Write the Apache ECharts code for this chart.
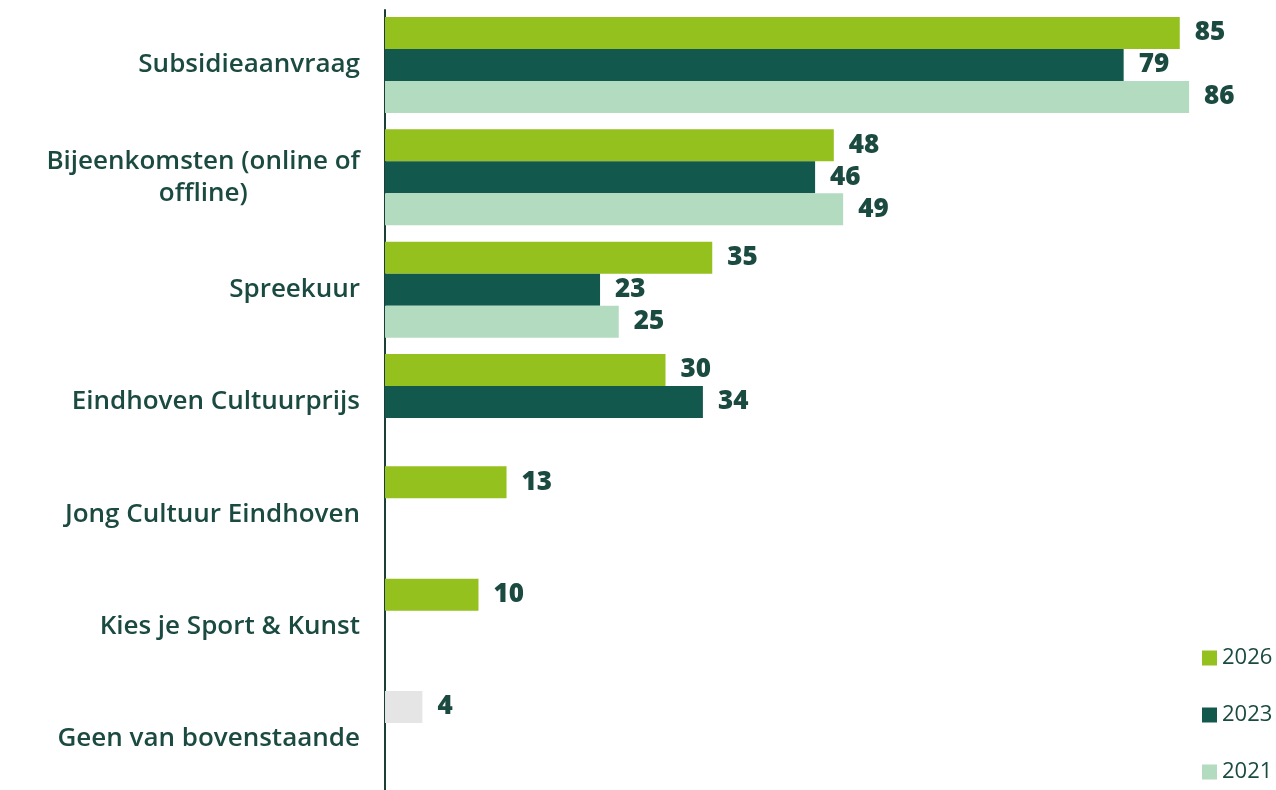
<!DOCTYPE html>
<html>
<head>
<meta charset="utf-8">
<script src="https://cdn.jsdelivr.net/npm/echarts@6/dist/echarts.min.js"></script>
<style>
  html, body { margin: 0; padding: 0; background: #fff; }
  #chart { width: 1276px; height: 790px; }
</style>
</head>
<body>
<div id="chart"></div>
<script>
const categories = [
  "Subsidieaanvraag",
  "Bijeenkomsten (online of\noffline)",
  "Spreekuur",
  "Eindhoven Cultuurprijs",
  "Jong Cultuur Eindhoven",
  "Kies je Sport & Kunst",
  "Geen van bovenstaande"
];
const years = ["2026", "2023", "2021"];
const values2026 = [85, 48, 35, 30, 13, 10, 4];
const values2023 = [79, 46, 23, 34, null, null, null];
const values2021 = [86, 49, 25, null, null, null, null];

const colors = ["#95c11f", "#13584d", "#b3dbbf"];
const textColor = "#1b4a40";

const labelStyle = {
  show: true,
  position: "right",
  distance: 15,
  color: textColor,
  fontFamily: "Open Sans",
  fontWeight: 800,
  fontSize: 26
};

function makeSeries(name, data, color) {
  return {
    name: name,
    type: "bar",
    data: data.map((v, i) => {
      if (v === null) return null;
      // last category is drawn grey in the original
      if (name === "2026" && i === data.length - 1) {
        return { value: v, itemStyle: { color: "#e5e5e5" } };
      }
      return v;
    }),
    barWidth: 32,
    barGap: "0%",
    itemStyle: { color: color },
    label: labelStyle,
    silent: true
  };
}

const myChart = echarts.init(document.getElementById("chart"));
myChart.setOption({
  animation: false,
  color: colors,
  grid: [
    // categories sit on the ticks, first at y=65, last at y=739
    { left: 385, top: 65, width: 841.5, height: 674 },
    // only for the long vertical axis line
    { left: 385, top: 10, width: 841.5, height: 780 }
  ],
  legend: {
    data: years,
    orient: "vertical",
    left: 1197,
    top: 642,
    itemWidth: 15,
    itemHeight: 15,
    itemGap: 35,
    icon: "rect",
    textStyle: { color: textColor, fontFamily: "Open Sans", fontSize: 22 }
  },
  xAxis: [
    { type: "value", min: 0, max: 90, show: false, gridIndex: 0 },
    { type: "value", min: 0, max: 90, show: false, gridIndex: 1 }
  ],
  yAxis: [
    {
      type: "category",
      gridIndex: 0,
      inverse: true,
      boundaryGap: false,
      data: categories,
      axisLine: { show: false },
      axisTick: { show: false },
      splitLine: { show: false },
      axisLabel: {
        margin: 25,
        formatter: function (v) {
          return v.split("\n").map(s => "{c|" + s + "}").join("\n");
        },
        rich: {
          c: {
            align: "center",
            color: textColor,
            fontFamily: "Open Sans",
            fontWeight: 600,
            fontSize: 26,
            lineHeight: 32
          }
        }
      }
    },
    {
      type: "category",
      gridIndex: 1,
      data: [],
      axisLine: { show: true, lineStyle: { color: "#1b3f37", width: 2 } },
      axisTick: { show: false },
      axisLabel: { show: false },
      splitLine: { show: false }
    }
  ],
  series: [
    makeSeries("2026", values2026, colors[0]),
    makeSeries("2023", values2023, colors[1]),
    makeSeries("2021", values2021, colors[2])
  ]
});
window.addEventListener("resize", () => myChart.resize(), false);
</script>
</body>
</html>
